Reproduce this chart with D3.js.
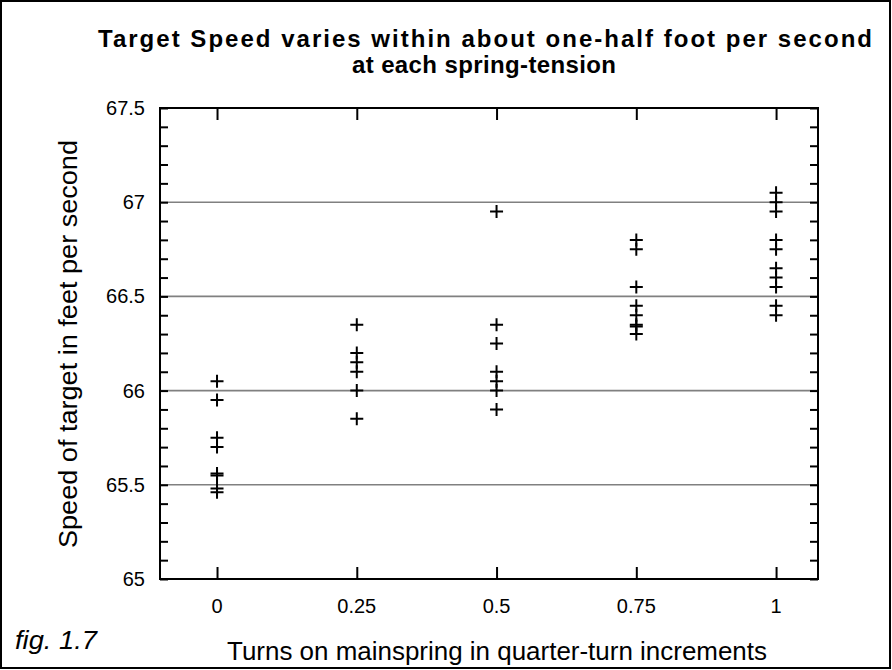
<!DOCTYPE html>
<html><head><meta charset="utf-8">
<script src="https://cdn.jsdelivr.net/npm/d3@7"></script>
<style>body{margin:0;background:#fff}svg{display:block}text{font-family:"Liberation Sans",Arial,sans-serif;fill:#000}</style>
</head><body>
<script>
const turns = [0, 0.25, 0.5, 0.75, 1];
const turnLabels = ["0", "0.25", "0.5", "0.75", "1"];
const speedsAt0 = [66.05, 65.95, 65.75, 65.7, 65.56, 65.55, 65.48, 65.46];
const speedsAt025 = [66.35, 66.2, 66.15, 66.1, 66.0, 65.85];
const speedsAt05 = [66.95, 66.35, 66.25, 66.1, 66.05, 66.0, 65.9];
const speedsAt075 = [66.8, 66.75, 66.55, 66.45, 66.4, 66.35, 66.34, 66.3];
const speedsAt1 = [67.05, 67.0, 66.95, 66.8, 66.75, 66.65, 66.6, 66.55, 66.45, 66.4];
const yTicks = [65, 65.5, 66, 66.5, 67, 67.5];
const yTickLabels = ["65", "65.5", "66", "66.5", "67", "67.5"];
const gridValues = [65.5, 66, 66.5, 67];
const titleLines = ["Target Speed varies within about one-half foot per second", "at each spring-tension"];
const xTitle = "Turns on mainspring in quarter-turn increments";
const yTitle = "Speed of target in feet per second";
const figLabel = "fig. 1.7";

const seriesList = [speedsAt0, speedsAt025, speedsAt05, speedsAt075, speedsAt1];
const points = [];
seriesList.forEach((arr, i) => arr.forEach(v => points.push({t: turns[i], v})));

const W = 892, H = 670;
const L = 160, R = 818, T = 108, B = 579;
const svg = d3.select("body").append("svg").attr("width", W).attr("height", H);

const x = d3.scaleLinear().domain([-0.102, 1.075]).range([L, R]);
const y = d3.scaleLinear().domain([65, 67.5]).range([B, T]);

// outer border
svg.append("rect").attr("x", 1).attr("y", 1).attr("width", W - 3).attr("height", H - 3)
  .attr("fill", "none").attr("stroke", "#000").attr("stroke-width", 2);

// gridlines
svg.append("g").selectAll("line").data(gridValues).join("line")
  .attr("x1", L).attr("x2", R).attr("y1", d => y(d)).attr("y2", d => y(d))
  .attr("stroke", "#808080").attr("stroke-width", 1.6);

// minor ticks on left and right (inward)
const minor = d3.range(65, 67.5001, 0.1);
const leftAxis = d3.axisRight(y).tickValues(minor).tickSize(8).tickFormat("");
const rightAxis = d3.axisLeft(y).tickValues(minor).tickSize(8).tickFormat("");
const gl = svg.append("g").attr("transform", `translate(${L},0)`).call(leftAxis);
const gr = svg.append("g").attr("transform", `translate(${R},0)`).call(rightAxis);
const topAxis = d3.axisBottom(x).tickValues(turns).tickSize(12).tickFormat("");
const botAxis = d3.axisTop(x).tickValues(turns).tickSize(12).tickFormat("");
const gt = svg.append("g").attr("transform", `translate(0,${T})`).call(topAxis);
const gb = svg.append("g").attr("transform", `translate(0,${B})`).call(botAxis);
[gl, gr, gt, gb].forEach(g => {
  g.select(".domain").remove();
  g.selectAll(".tick line").attr("stroke", "#000").attr("stroke-width", 2);
});

// frame
svg.append("rect").attr("x", L).attr("y", T).attr("width", R - L).attr("height", B - T)
  .attr("fill", "none").attr("stroke", "#000").attr("stroke-width", 2);

// y tick labels
svg.append("g").selectAll("text").data(yTicks).join("text")
  .attr("x", 145).attr("y", d => y(d)).attr("dy", "0.35em")
  .attr("text-anchor", "end").attr("font-size", 20)
  .text((d, i) => yTickLabels[i]);

// x tick labels
svg.append("g").selectAll("text").data(turns).join("text")
  .attr("x", d => x(d)).attr("y", 613)
  .attr("text-anchor", "middle").attr("font-size", 20)
  .text((d, i) => turnLabels[i]);

// points
svg.append("g").selectAll("path").data(points).join("path")
  .attr("transform", d => `translate(${x(d.t)},${y(d.v)})`)
  .attr("d", "M-6.5,0H6.5M0,-6.5V6.5")
  .attr("stroke", "#000").attr("stroke-width", 2).attr("fill", "none");

// title
svg.append("text").attr("x", 485).attr("y", 47).attr("text-anchor", "middle")
  .attr("font-size", 24).attr("font-weight", "bold")
  .attr("textLength", 774).attr("lengthAdjust", "spacing").text(titleLines[0]);
svg.append("text").attr("x", 484).attr("y", 73).attr("text-anchor", "middle")
  .attr("font-size", 24).attr("font-weight", "bold")
  .attr("textLength", 264).attr("lengthAdjust", "spacing").text(titleLines[1]);

// axis titles
svg.append("text").attr("x", 497).attr("y", 660).attr("text-anchor", "middle")
  .attr("font-size", 25).attr("textLength", 540).attr("lengthAdjust", "spacingAndGlyphs").text(xTitle);
svg.append("text").attr("transform", "translate(77,344) rotate(-90)").attr("text-anchor", "middle")
  .attr("font-size", 25).attr("textLength", 408).attr("lengthAdjust", "spacingAndGlyphs").text(yTitle);
svg.append("text").attr("x", 15).attr("y", 649).attr("font-size", 25).attr("font-style", "italic")
  .attr("textLength", 82).attr("lengthAdjust", "spacingAndGlyphs").text(figLabel);
</script>
</body></html>
